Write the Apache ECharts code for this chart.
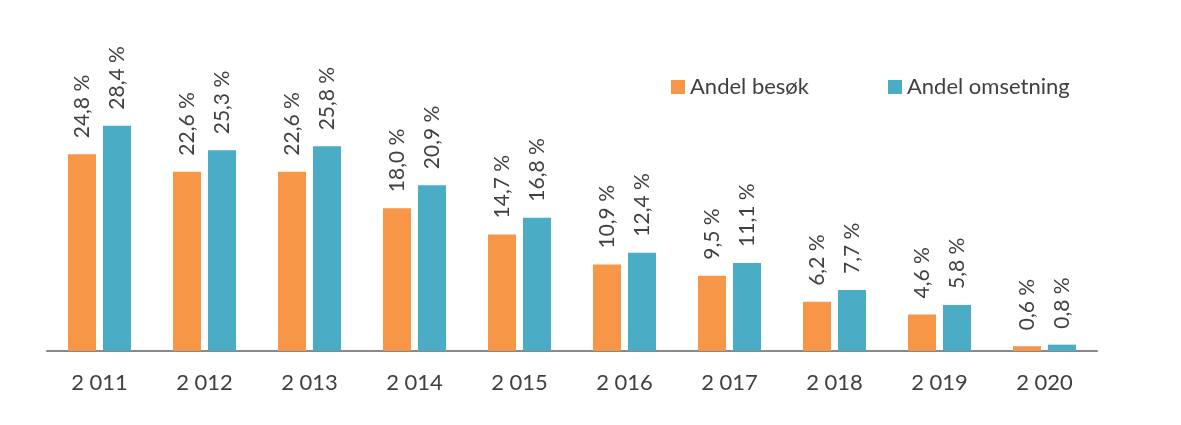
<!DOCTYPE html>
<html>
<head>
<meta charset="utf-8">
<script src="https://cdn.jsdelivr.net/npm/echarts@6/dist/echarts.min.js"></script>
<style>
  html, body { margin: 0; padding: 0; background: #fff; }
  #chart { width: 1181px; height: 425px; }
</style>
</head>
<body>
<div id="chart"></div>
<script>
const years = ['2 011', '2 012', '2 013', '2 014', '2 015', '2 016', '2 017', '2 018', '2 019', '2 020']
const andelBesok = [24.8, 22.6, 22.6, 18.0, 14.7, 10.9, 9.5, 6.2, 4.6, 0.6]
const andelOmsetning = [28.4, 25.3, 25.8, 20.9, 16.8, 12.4, 11.1, 7.7, 5.8, 0.8]

const fontFamily = 'Lato, "Open Sans", sans-serif'

// norsk format: komma som desimaltegn
const fmt = (p) => p.value.toFixed(1).replace('.', ',') + ' %'

const labelStyle = {
  show: true,
  position: 'top',
  rotate: 90,
  align: 'left',
  verticalAlign: 'middle',
  distance: 16,
  color: '#404040',
  fontSize: 21,
  fontFamily: fontFamily,
  formatter: fmt
}

const chart = echarts.init(document.getElementById('chart'))
chart.setOption({
  animation: false,
  grid: {
    left: 47,
    right: 84,
    top: 113,
    bottom: 74
  },
  legend: {
    top: 71,
    left: 666,
    itemWidth: 14,
    itemHeight: 14,
    itemGap: 79,
    icon: 'rect',
    textStyle: {
      color: '#404040',
      fontSize: 22,
      fontFamily: fontFamily
    }
  },
  xAxis: {
    type: 'category',
    data: years,
    axisLine: { lineStyle: { color: '#888888', width: 2 } },
    axisTick: { show: false },
    axisLabel: {
      color: '#404040',
      fontSize: 22,
      fontFamily: fontFamily,
      margin: 21
    }
  },
  yAxis: {
    type: 'value',
    min: 0,
    max: 30,
    show: false,
    splitLine: { show: false }
  },
  series: [
    {
      name: 'Andel besøk',
      type: 'bar',
      data: andelBesok,
      barWidth: 28,
      barGap: '25%',
      itemStyle: { color: '#F79646' },
      label: labelStyle
    },
    {
      name: 'Andel omsetning',
      type: 'bar',
      data: andelOmsetning,
      barWidth: 28,
      itemStyle: { color: '#4BACC6' },
      label: labelStyle
    }
  ]
})
</script>
</body>
</html>
